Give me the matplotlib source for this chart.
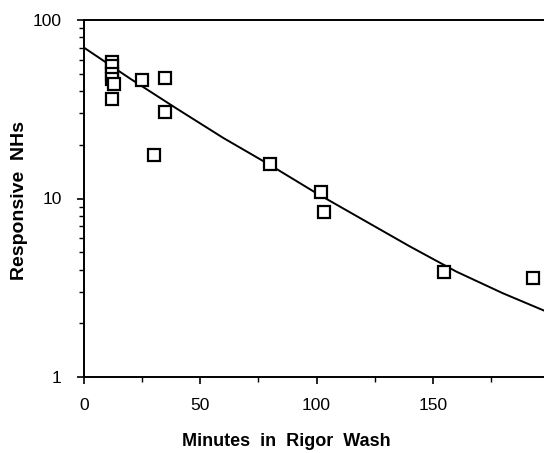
import matplotlib
matplotlib.use('Agg')
import matplotlib.pyplot as plt
from matplotlib.ticker import MultipleLocator, FixedLocator, NullFormatter

# measured points (minutes, responsive NHs)
wash_minutes = [12, 12, 12, 12, 13, 12, 25, 35, 35, 30, 80, 102, 103, 155, 193]
responsive_nhs = [58, 55, 50, 47, 44, 36, 46, 47.5, 30.5, 17.5, 15.6, 10.9, 8.4, 3.85, 3.6]

# fitted curve
fit_minutes = [0, 20, 40, 60, 80, 100, 120, 140, 160, 180, 198]
fit_nhs = [70, 46.8, 31.8, 21.8, 15.4, 10.7, 7.6, 5.4, 3.9, 2.95, 2.35]

x_ticks = [0, 50, 100, 150]
y_ticks = [1, 10, 100]


def main():
    plt.rcParams['font.family'] = ['Liberation Sans', 'DejaVu Sans']
    fig = plt.figure(figsize=(5.44, 4.53), dpi=100)
    ax = fig.add_axes([84 / 544, 1 - 377 / 453, 460 / 544, 357 / 453])
    plot_wash(ax)
    # axis titles placed where they sit in the original
    fig.text(286 / 544, 1 - 442 / 453, 'Minutes  in  Rigor  Wash', fontsize=13,
             fontweight='bold', ha='center', va='center')
    fig.text(20 / 544, 1 - 200 / 453, 'Responsive  NHs', fontsize=14,
             fontweight='bold', ha='center', va='center', rotation=90)
    fig.savefig('out.png', dpi=100)


def plot_wash(ax):
    ax.plot(fit_minutes, fit_nhs, color='black', lw=1.4)
    ax.plot(wash_minutes, responsive_nhs, 's', mfc='white', mec='black',
            ms=8, mew=1.6, clip_on=False)

    ax.set_yscale('log')
    ax.set_xlim(0, 197.8)
    ax.set_ylim(1, 100)

    ax.xaxis.set_major_locator(FixedLocator(x_ticks))
    ax.xaxis.set_minor_locator(MultipleLocator(25))
    ax.yaxis.set_major_locator(FixedLocator(y_ticks))
    ax.set_yticklabels([str(t) for t in y_ticks])
    ax.yaxis.set_minor_formatter(NullFormatter())

    ax.tick_params(which='major', direction='out', length=5, width=1.2,
                   labelsize=12.5, color='black')
    ax.tick_params(which='minor', direction='out', length=3.5, width=1.0)
    ax.tick_params(axis='x', which='major', pad=10)
    ax.tick_params(axis='y', which='major', pad=11)

    ax.spines['right'].set_visible(False)
    for side in ['left', 'bottom', 'top']:
        ax.spines[side].set_linewidth(1.4)


if __name__ == "__main__":
    main()
